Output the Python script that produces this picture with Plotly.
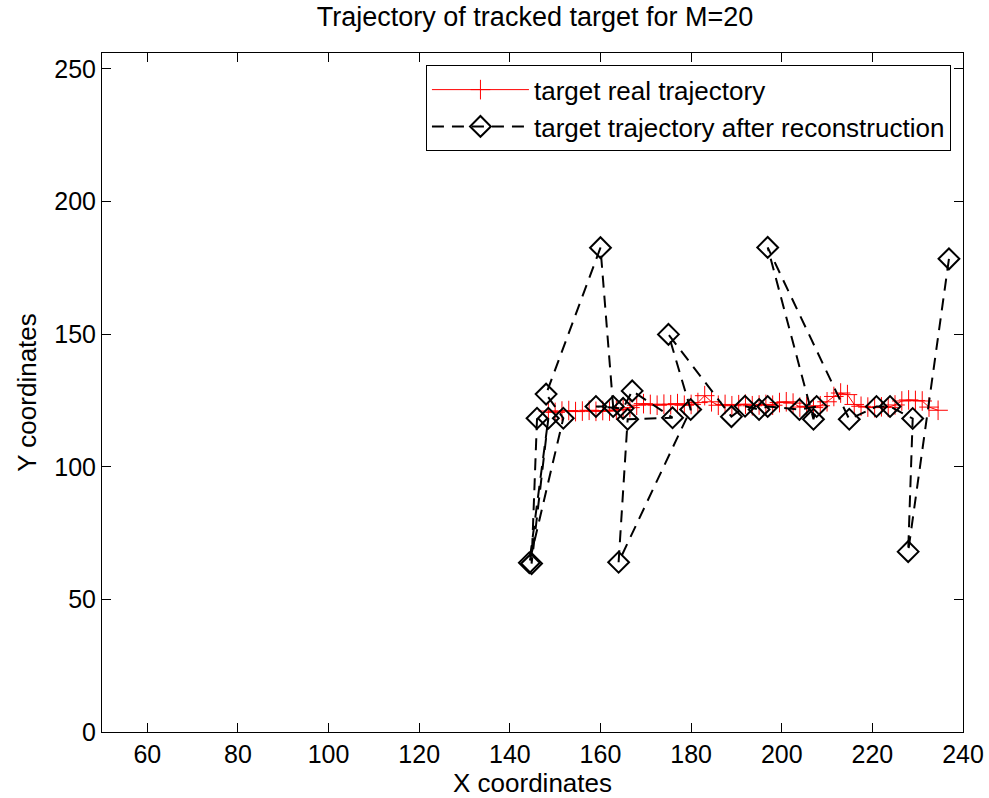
import plotly.graph_objects as go

# real trajectory (red)
real_x = [148.5, 150, 151.5, 153, 154.5, 156, 157.5, 159, 160.5, 162, 163.5, 165, 166.5, 168,
          169.5, 171, 172.5, 174, 175.5, 177, 178.5, 180, 181.5, 183, 184.5, 186, 187.5, 189,
          190.5, 192, 193.5, 195, 196.5, 198, 199.5, 201, 202.5, 204, 205.5, 207, 208.5, 210,
          211.5, 213, 214.5, 216, 217.5, 219, 220.5, 222, 223.5, 225, 226.5, 228, 229.5, 231,
          232.5, 234.5]
real_y = [121, 120.5, 121, 121.2, 120.8, 121, 121.3, 120.9, 121.2, 121, 121.4, 121.6, 122.3, 123.2,
          123.8, 123.5, 123.2, 123.6, 123.4, 123.8, 123.2, 123.5, 124.2, 126.8, 124.5, 123.2, 123.5, 123,
          123.4, 123.6, 123, 123.3, 123.5, 123.2, 124.2, 124.5, 124, 122.5, 122.8, 122.3, 123, 124.5,
          126.5, 127.8, 127.2, 123.5, 122.8, 122.5, 122.3, 122.6, 122.4, 123.3, 124.8, 125.2, 125, 124.8,
          122.5, 121.3]

# reconstructed trajectory (black dashed, diamonds)
rec_x = [146, 144.8, 148.5, 144.3, 151.8, 148, 160, 162.8, 159, 165, 167, 175.9, 166, 164, 179.9,
         175, 188.9, 191.9, 195, 196.9, 203.9, 207.7, 207, 196.9, 214.9, 220.9, 223.9, 228.9, 227.9, 236.9]
rec_y = [118.3, 63.5, 118.3, 63.8, 118.3, 127.4, 182.6, 122.7, 122.7, 122, 128.6, 118.5, 117.9, 64, 121.6,
         149.9, 118.9, 122.8, 121.6, 122.7, 121.6, 122.7, 117.9, 182.7, 117.9, 122.7, 122.7, 118.2, 68, 178.4]

x_ticks = [60, 80, 100, 120, 140, 160, 180, 200, 220, 240]
y_ticks = [0, 50, 100, 150, 200, 250]

fig = go.Figure()
fig.add_trace(go.Scatter(x=real_x, y=real_y, mode='lines+markers',
                         name='target real trajectory',
                         line=dict(color='rgb(255,0,0)', width=1),
                         marker=dict(symbol='cross-thin', size=14,
                                     line=dict(color='rgb(255,0,0)', width=1))))
fig.add_trace(go.Scatter(x=rec_x, y=rec_y, mode='lines+markers',
                         name='target trajectory after reconstruction',
                         line=dict(color='black', width=2, dash='12px,8px'),
                         marker=dict(symbol='diamond-open', size=16, color='black',
                                     line=dict(color='black', width=2))))

axis_style = dict(showgrid=False, zeroline=False, showline=True, linecolor='black',
                  linewidth=1, mirror='ticks', ticks='inside', ticklen=9,
                  tickcolor='black', tickfont=dict(size=25, color='black'),
                  automargin=False)

fig.update_layout(
    width=989, height=798,
    paper_bgcolor='white', plot_bgcolor='white',
    font=dict(family='Liberation Sans, Arial, sans-serif', color='black'),
    margin=dict(l=102, r=26, t=53, b=66),
    title=dict(text='Trajectory of tracked target for M=20', x=0.541, xanchor='center',
               y=0.979, yanchor='middle', font=dict(size=27)),
    xaxis=dict(range=[50, 240], tickvals=x_ticks,
               title=dict(text='X coordinates', font=dict(size=26), standoff=2), **axis_style),
    yaxis=dict(range=[0, 256], tickvals=y_ticks,
               title=dict(text='Y coordinates', font=dict(size=26), standoff=10), **axis_style),
    legend=dict(x=0.986, y=0.982, xanchor='right', yanchor='top',
                bordercolor='black', borderwidth=1, bgcolor='white',
                font=dict(size=26), itemwidth=97, tracegroupgap=0),
    showlegend=True,
)

fig.write_html("out.html", config={'displayModeBar': False},
               post_script="document.body.style.margin='0';")
